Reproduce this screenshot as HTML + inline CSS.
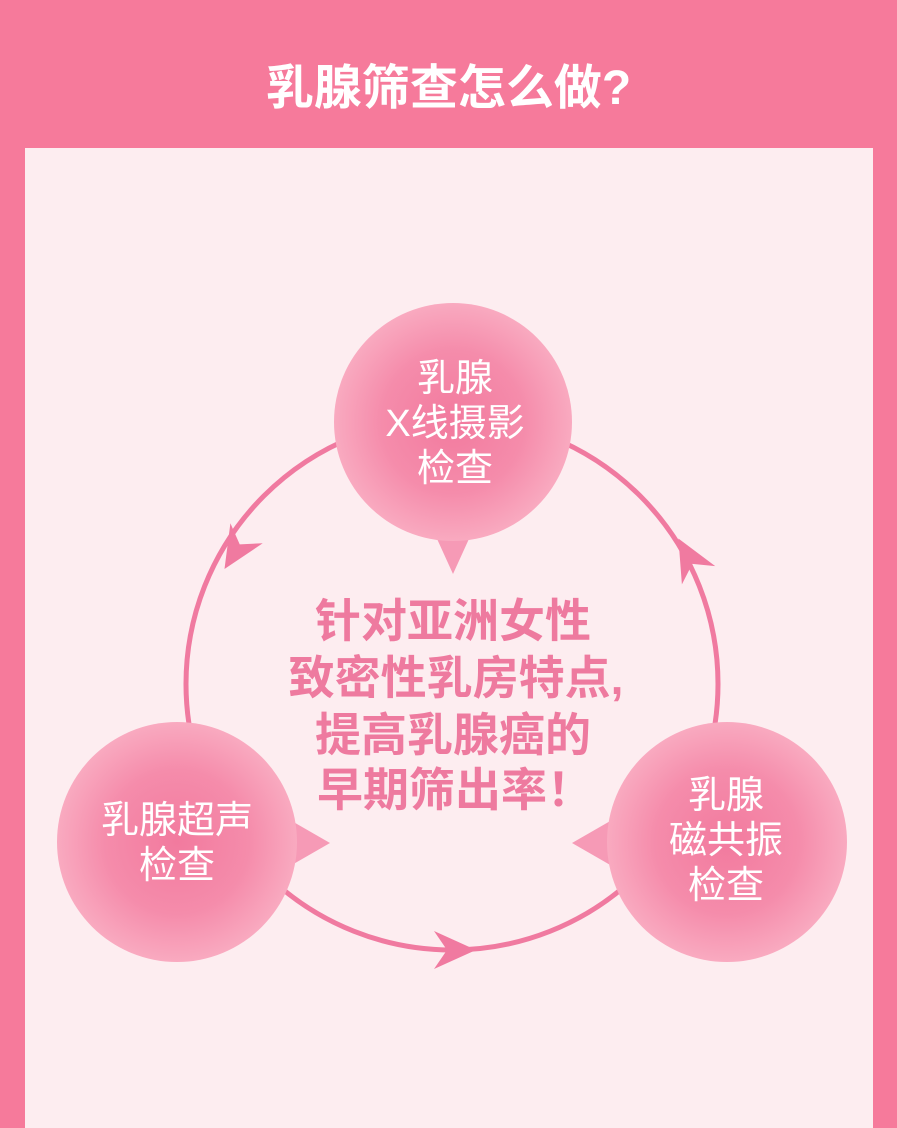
<!DOCTYPE html>
<html><head><meta charset="utf-8"><style>
html,body{margin:0;padding:0;}
body{width:897px;height:1112px;background:#f67a9b;position:relative;overflow:hidden;font-family:"Liberation Sans","Noto Sans CJK SC",sans-serif;}
.title{position:absolute;left:0;width:897px;top:59px;text-align:center;color:#fff;font-size:48px;font-weight:bold;line-height:60px;}
.panel{position:absolute;left:25px;top:148px;width:848px;height:980px;background:#fdedf0;}
svg{position:absolute;left:0;top:0;}
</style></head><body>
<div class="title">乳腺筛查怎么做?</div>
<div class="panel"></div>
<svg width="897" height="1112" viewBox="0 0 897 1112">
<defs>
<radialGradient id="g" cx="50%" cy="50%" r="50%">
<stop offset="0" stop-color="#f27a9e"/>
<stop offset="0.6" stop-color="#f58cab"/>
<stop offset="1" stop-color="#f9aac0"/>
</radialGradient>
</defs>
<circle cx="452" cy="684" r="266" fill="none" stroke="#f07aa0" stroke-width="5"/>
<g fill="#f07aa0">
<path transform="translate(235,552) rotate(121.7)" d="M20,0 L-22,-19 L-9,0 L-22,19 Z"/>
<path transform="translate(688,556) rotate(-118.7)" d="M20,0 L-22,-19 L-9,0 L-22,19 Z"/>
<path transform="translate(456,950) rotate(0)" d="M20,0 L-22,-19 L-9,0 L-22,19 Z"/>
</g>
<g fill="#f69ab6">
<path d="M433,530 L453,574 L473,530 Z"/>
<path d="M290,820 L330,843 L290,866 Z"/>
<path d="M612,820 L572,843 L612,866 Z"/>
</g>
<circle cx="453" cy="422" r="119" fill="url(#g)"/>
<circle cx="177" cy="842" r="120" fill="url(#g)"/>
<circle cx="727" cy="842" r="120" fill="url(#g)"/>
<g fill="#fff" font-size="38" text-anchor="middle" font-family="Liberation Sans, Noto Sans CJK SC, sans-serif">
<text x="455" y="391">乳腺</text>
<text x="455" y="436">X线摄影</text>
<text x="455" y="481">检查</text>
<text x="177" y="833">乳腺超声</text>
<text x="177" y="878">检查</text>
<text x="726" y="808">乳腺</text>
<text x="726" y="853">磁共振</text>
<text x="726" y="898">检查</text>
</g>
<g fill="#ee7a9f" font-size="46" font-weight="bold" text-anchor="middle" font-family="Liberation Sans, Noto Sans CJK SC, sans-serif">
<text x="453" y="637">针对亚洲女性</text>
<text x="456" y="694">致密性乳房特点,</text>
<text x="453" y="751">提高乳腺癌的</text>
<text x="455" y="806">早期筛出率！</text>
</g>
</svg>
</body></html>
